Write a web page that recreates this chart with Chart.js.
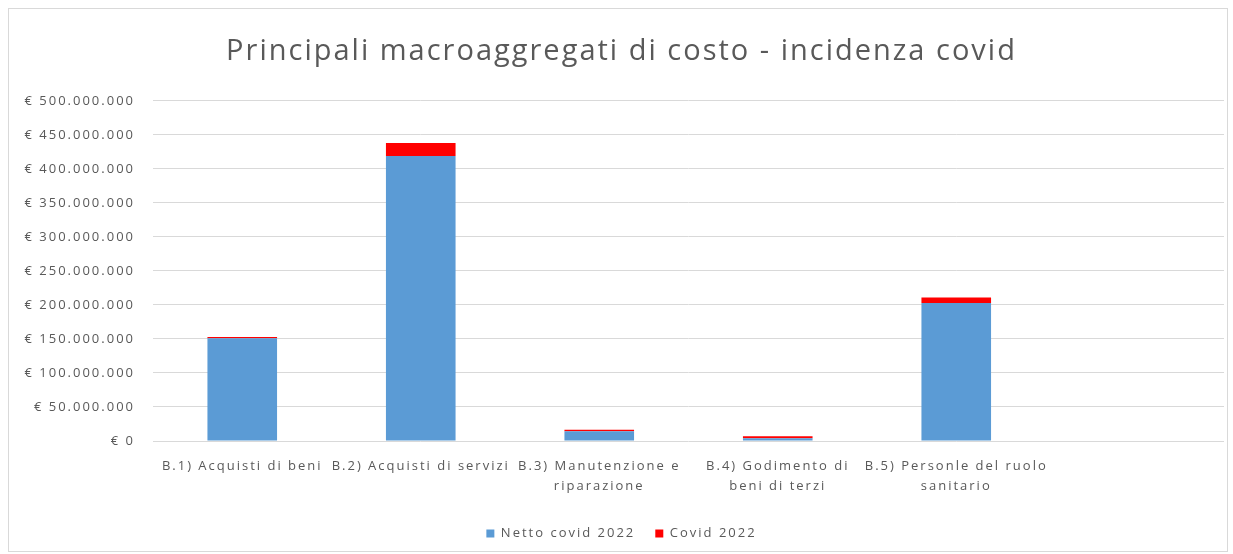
<!DOCTYPE html>
<html>
<head>
<meta charset="utf-8">
<script src="https://cdn.jsdelivr.net/npm/chart.js@4.4.0/dist/chart.umd.min.js"></script>
<style>
  body { margin: 0; background: #fff; }
  #wrap { position: absolute; left: 8px; top: 8px; width: 1220px; height: 544px; border: 1px solid #d9d9d9; box-sizing: border-box; }
</style>
</head>
<body>
<div id="wrap"><canvas id="chart"></canvas></div>
<script>
// Categories and values (euro)
const categories = [
  "B.1) Acquisti di beni",
  "B.2) Acquisti di servizi",
  ["B.3) Manutenzione e", "riparazione"],
  ["B.4) Godimento di", "beni di terzi"],
  ["B.5) Personle del ruolo", "sanitario"],
  ""
];
const nettoCovid = [151000000, 419000000, 14500000, 4000000, 203000000, null];
const covid = [2000000, 19000000, 2000000, 3000000, 8000000, null];

const FONT = "'Open Sans', 'Noto Sans', sans-serif";

// Format as "€ 500.000.000"
function euro(v) {
  return "€ " + String(Math.round(v)).replace(/\B(?=(\d{3})+(?!\d))/g, ".");
}

// the reference text is drawn rather wide, so add a bit of letter spacing
const spacing = {
  id: "spacing",
  beforeUpdate: c => { c.ctx.letterSpacing = "2px"; },
  beforeDraw: c => { c.ctx.letterSpacing = "2px"; }
};

const ctx = document.getElementById("chart").getContext("2d");
new Chart(ctx, {
  type: "bar",
  data: {
    labels: categories,
    datasets: [
      { label: "Netto covid 2022", data: nettoCovid, backgroundColor: "#5B9BD5", categoryPercentage: 0.39, barPercentage: 1 },
      { label: "Covid 2022", data: covid, backgroundColor: "#FF0000", categoryPercentage: 0.39, barPercentage: 1 }
    ]
  },
  plugins: [spacing],
  options: {
    responsive: true,
    maintainAspectRatio: false,
    animation: false,
    layout: { padding: { left: 10, right: 3, top: 0, bottom: 1 } },
    plugins: {
      title: {
        display: true,
        text: "Principali macroaggregati di costo - incidenza covid",
        color: "#595959",
        font: { family: FONT, size: 29, weight: "normal" },
        padding: { top: 25, bottom: 32 }
      },
      legend: {
        position: "bottom",
        labels: {
          color: "#595959",
          font: { family: FONT, size: 13 },
          boxWidth: 8, boxHeight: 8, padding: 20
        }
      },
      tooltip: { enabled: false }
    },
    scales: {
      x: {
        stacked: true,
        afterFit: s => { s.height = 66; },
        grid: { display: false },
        border: { display: false },
        ticks: {
          color: "#595959",
          font: { family: FONT, size: 13, lineHeight: 1.5 },
          maxRotation: 0, autoSkip: false, padding: 8
        }
      },
      y: {
        stacked: true,
        min: 0, max: 500000000,
        afterFit: s => { s.width = 134; },
        grid: { color: "#d9d9d9", drawTicks: false },
        border: { display: false },
        ticks: {
          stepSize: 50000000,
          color: "#595959",
          font: { family: FONT, size: 13 },
          padding: 18,
          callback: v => euro(v)
        }
      }
    }
  }
});
</script>
</body>
</html>
